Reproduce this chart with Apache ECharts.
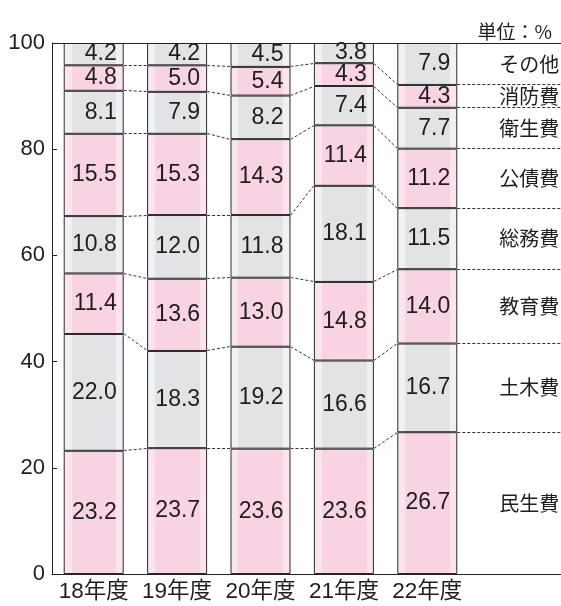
<!DOCTYPE html>
<html><head><meta charset="utf-8">
<script src="https://cdn.jsdelivr.net/npm/echarts@6/dist/echarts.min.js"></script>
<style>html,body{margin:0;padding:0;background:#fff}#c{width:561px;height:606px}</style>
</head><body><div id="c"></div>
<script>
const categories = ['18年度','19年度','20年度','21年度','22年度'];
const seriesNames = ['民生費','土木費','教育費','総務費','公債費','衛生費','消防費','その他'];
const minsei = [23.2,23.7,23.6,23.6,26.7];
const doboku = [22.0,18.3,19.2,16.6,16.7];
const kyoiku = [11.4,13.6,13.0,14.8,14.0];
const somu   = [10.8,12.0,11.8,18.1,11.5];
const kosai  = [15.5,15.3,14.3,11.4,11.2];
const eisei  = [8.1,7.9,8.2,7.4,7.7];
const shobo  = [4.8,5.0,5.4,4.3,4.3];
const sonota = [4.2,4.2,4.5,3.8,7.9];
const unitLabel = '単位：%';

const values = [minsei, doboku, kyoiku, somu, kosai, eisei, shobo, sonota];
const FONT = "'Liberation Sans', 'Noto Sans CJK JP', sans-serif";
const CJK = "'Noto Sans CJK JP', sans-serif";
const BAR_W = 60;
const pink = {light:'#fce4ef', main:'#f8d3e3'};
const gray = {light:'#f0f1f2', main:'#e2e3e5'};
function grad(c){
  return {type:'linear',x:0,y:0,x2:1,y2:0,colorStops:[
    {offset:0,color:c.light},{offset:0.133,color:c.light},
    {offset:0.133,color:c.main},{offset:0.878,color:c.main},
    {offset:0.878,color:c.light},{offset:1,color:c.light}]};
}
const cum = [];
values.forEach((arr,k)=>{
  cum.push(arr.map((v,i)=> +(v + (k>0?cum[k-1][i]:0)).toFixed(2)));
});
const connData = [];
for (let k=0;k<values.length-1;k++){
  for (let i=0;i<categories.length;i++){
    const yr = i<categories.length-1 ? cum[k][i+1] : cum[k][i];
    connData.push([i, cum[k][i], yr]);
  }
}
const last = categories.length-1;
const sideData = seriesNames.map((n,k)=>({value:[last, cum[k][last]-values[k][last]/2], name:n}));

const bars = seriesNames.map((n,k)=>({
  type:'bar', name:n, stack:'s', barWidth:BAR_W, data:values[k],
  itemStyle:{color:grad(k%2===0?pink:gray), borderColor:'#2a2a2a', borderWidth:1},
  label:{show:true, position:'insideRight', distance:7, fontSize:23, color:'#1e1e1e', fontFamily:FONT,
    formatter:p=>p.value.toFixed(1)},
  emphasis:{disabled:true}, animation:false
}));
const r5 = v=>Math.round(v-0.5)+0.5;
const series = bars.concat([
  {type:'custom', name:'conn', data:connData, clip:false, z:5, animation:false, silent:true,
   renderItem:(params, api)=>{
     const i = api.value(0), yl = api.value(1), yr = api.value(2);
     const half = BAR_W/2;
     const p1 = api.coord([i, yl]);
     let x2, y2;
     if (i < last){ const q = api.coord([i+1, yr]); x2 = q[0]-half; y2 = q[1]; }
     else { x2 = api.getWidth(); y2 = p1[1]; }
     return {type:'line', shape:{x1:p1[0]+half, y1:r5(p1[1]), x2:x2, y2:r5(y2)},
       style:{stroke:'#333', lineWidth:1, lineDash:[3,2]}};
   }},
  {type:'custom', name:'side', data:sideData, clip:false, z:5, animation:false, silent:true,
   renderItem:(params, api)=>{
     const p = api.coord([api.value(0), api.value(1)]);
     return {type:'text', x:p[0]+BAR_W/2+42, y:p[1],
       style:{text:seriesNames[params.dataIndex], fill:'#1e1e1e', font:'20px '+CJK, align:'left', verticalAlign:'middle'}};
   }},
  {type:'custom', name:'frame', data:[[0,100]], clip:false, z:6, animation:false, silent:true,
   renderItem:(params, api)=>{
     const cs = params.coordSys;
     const top = api.coord([0,100])[1], bot = api.coord([0,0])[1];
     return {type:'group', children:[
       {type:'line', shape:{x1:cs.x, y1:r5(top), x2:api.getWidth(), y2:r5(top)}, style:{stroke:'#222', lineWidth:1}},
       {type:'line', shape:{x1:cs.x+cs.width, y1:r5(bot), x2:api.getWidth(), y2:r5(bot)}, style:{stroke:'#222', lineWidth:1}}
     ]};
   }}
]);

const chart = echarts.init(document.getElementById('c'), null, {renderer:'canvas'});
chart.setOption({
  animation:false,
  title:{text:unitLabel, right:4, top:17, textStyle:{fontSize:19, fontWeight:'normal', color:'#1e1e1e', fontFamily:CJK}},
  grid:{left:52, right:92, top:43, bottom:32},
  xAxis:{type:'category', data:categories,
    axisLine:{lineStyle:{color:'#222', width:1}}, axisTick:{show:false},
    axisLabel:{interval:0, fontSize:22.5, color:'#1e1e1e', fontFamily:FONT, margin:7}},
  yAxis:{type:'value', min:0, max:100, interval:20,
    axisLine:{show:true, lineStyle:{color:'#222', width:1}},
    axisTick:{show:true, inside:true, length:5, lineStyle:{color:'#222'}},
    splitLine:{show:false},
    axisLabel:{fontSize:22, color:'#1e1e1e', fontFamily:FONT, margin:7}},
  series:series
});
</script></body></html>
